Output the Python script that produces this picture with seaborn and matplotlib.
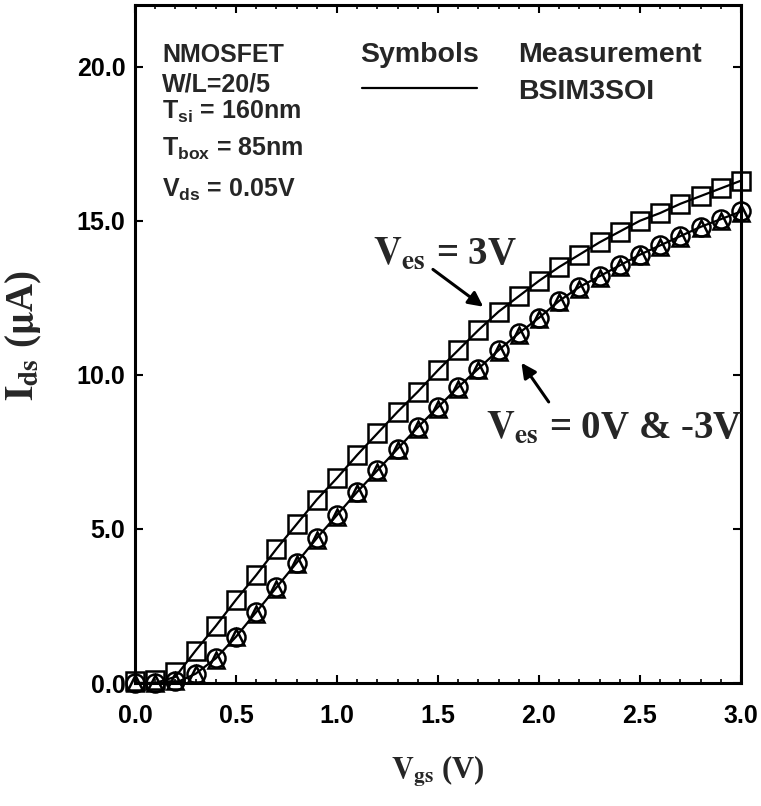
import matplotlib
matplotlib.use("Agg")
import matplotlib.pyplot as plt
from matplotlib.ticker import MultipleLocator, FormatStrFormatter
import seaborn as sns

# gate voltage sweep (V)
vgs = [0.0, 0.1, 0.2, 0.3, 0.4, 0.5, 0.6, 0.7, 0.8, 0.9, 1.0,
       1.1, 1.2, 1.3, 1.4, 1.5, 1.6, 1.7, 1.8, 1.9, 2.0,
       2.1, 2.2, 2.3, 2.4, 2.5, 2.6, 2.7, 2.8, 2.9, 3.0]

ids_3v = [0.05, 0.1, 0.35, 1.05, 1.85, 2.7, 3.5, 4.35, 5.15, 5.95, 6.65,
          7.4, 8.1, 8.8, 9.45, 10.15, 10.8, 11.45, 12.05, 12.55, 13.05,
          13.5, 13.9, 14.3, 14.65, 15.0, 15.25, 15.55, 15.8, 16.05, 16.3]
ids_0v = [0.0, 0.0, 0.05, 0.3, 0.8, 1.5, 2.3, 3.1, 3.9, 4.7, 5.45,
          6.2, 6.9, 7.6, 8.3, 8.95, 9.6, 10.2, 10.8, 11.35, 11.85,
          12.4, 12.85, 13.2, 13.55, 13.9, 14.2, 14.5, 14.8, 15.05, 15.3]
ids_m3v = [0.0, 0.0, 0.05, 0.3, 0.75, 1.5, 2.25, 3.05, 3.85, 4.65, 5.4,
           6.15, 6.85, 7.55, 8.25, 8.9, 9.55, 10.15, 10.75, 11.3, 11.8,
           12.35, 12.8, 13.15, 13.5, 13.85, 14.15, 14.45, 14.75, 15.0, 15.25]

# BSIM3SOI model curves (uA)
model_3v = [0.0, 0.0, 0.2, 1.05, 1.85, 2.7, 3.5, 4.35, 5.15, 5.95, 6.65,
            7.4, 8.1, 8.8, 9.45, 10.15, 10.8, 11.45, 12.05, 12.55, 13.05,
            13.5, 13.9, 14.3, 14.65, 15.0, 15.25, 15.55, 15.8, 16.05, 16.3]
model_0v = [0.0, 0.0, 0.0, 0.3, 0.8, 1.5, 2.3, 3.1, 3.9, 4.7, 5.45,
            6.2, 6.9, 7.6, 8.3, 8.95, 9.6, 10.2, 10.8, 11.35, 11.85,
            12.4, 12.85, 13.2, 13.55, 13.9, 14.2, 14.5, 14.8, 15.05, 15.3]

sns.set_theme(style="ticks")
plt.rcParams["font.family"] = ["Liberation Sans", "DejaVu Sans"]
plt.rcParams["mathtext.fontset"] = "custom"
plt.rcParams["mathtext.rm"] = "Liberation Sans:bold"
plt.rcParams["mathtext.bf"] = "Liberation Sans:bold"
plt.rcParams["mathtext.it"] = "Liberation Sans:bold"

fig = plt.figure(figsize=(7.61, 8.06), dpi=100)
ax = fig.add_axes([0.1774, 0.1526, 0.7963, 0.8412])

# model lines
for m in (model_3v, model_0v):
    sns.lineplot(x=vgs, y=m, ax=ax, color="black", linewidth=1.6, clip_on=False)

# measurement symbols
sym = dict(linestyle="none", color="black", markerfacecolor="none",
           markeredgecolor="black", markeredgewidth=1.8, clip_on=False)
sns.lineplot(x=vgs, y=ids_3v, ax=ax, marker="s", markersize=13, **sym)
sns.lineplot(x=vgs, y=ids_0v, ax=ax, marker="o", markersize=13, **sym)
sns.lineplot(x=vgs, y=ids_m3v, ax=ax, marker="^", markersize=11, **sym)

ax.set_xlim(0, 3.0)
ax.set_ylim(0, 22.0)
ax.xaxis.set_major_locator(MultipleLocator(0.5))
ax.xaxis.set_minor_locator(MultipleLocator(0.1))
ax.xaxis.set_major_formatter(FormatStrFormatter("%.1f"))
ax.yaxis.set_major_formatter(FormatStrFormatter("%.1f"))
ax.set_yticks([0, 5, 10, 15, 20])

ax.tick_params(which="both", direction="in", top=True, right=True, colors="black")
ax.tick_params(which="major", length=6, width=1.5)
ax.tick_params(which="minor", length=3, width=1.2)
ax.tick_params(axis="x", which="major", pad=15)
ax.tick_params(axis="y", which="major", pad=7)
for lab in ax.get_xticklabels() + ax.get_yticklabels():
    lab.set_fontsize(18)
    lab.set_fontweight("bold")
for sp in ax.spines.values():
    sp.set_linewidth(2.2)
    sp.set_color("black")

serif = dict(family=["Liberation Serif", "DejaVu Serif"], weight="bold",
             math_fontfamily="stix")
ax.set_xlabel(r"$\mathbf{V_{gs}}$ (V)", fontsize=22, **serif)
ax.set_ylabel(r"$\mathbf{I_{ds}}$ ($\mathbf{\mu}$A)", fontsize=28, **serif)
ax.xaxis.set_label_coords(0.5, -0.105)
ax.yaxis.set_label_coords(-0.15, 0.513)

# device info block
info = ["NMOSFET", "W/L=20/5", r"T$_{si}$ = 160nm",
        r"T$_{box}$ = 85nm", r"V$_{ds}$ = 0.05V"]
info_y = [20.16, 19.19, 18.3, 17.1, 15.77]
for s, yy in zip(info, info_y):
    ax.text(0.135, yy, s, fontsize=18, fontweight="bold", va="baseline")

ax.text(1.116, 20.16, "Symbols", fontsize=20.5, fontweight="bold", va="baseline")
ax.text(1.898, 20.16, "Measurement", fontsize=20.5, fontweight="bold", va="baseline")
ax.text(1.898, 18.96, "BSIM3SOI", fontsize=20.5, fontweight="bold", va="baseline")
ax.plot([0.3746, 0.564], [0.8776, 0.8776], transform=ax.transAxes,
        color="black", linewidth=1.6)

# curve annotations
arrow = dict(arrowstyle="-|>", color="black", lw=2.2, mutation_scale=22,
             shrinkA=0, shrinkB=0)
ax.annotate("", xy=(1.724, 12.21), xytext=(1.475, 13.42), arrowprops=arrow)
ax.annotate("", xy=(1.913, 10.39), xytext=(2.048, 9.12), arrowprops=arrow)
ax.text(1.176, 13.58, r"$\mathbf{V_{es}}$ = 3V", fontsize=28, va="baseline", **serif)
ax.text(1.739, 7.95, r"$\mathbf{V_{es}}$ = 0V & -3V", fontsize=28, va="baseline", **serif)

fig.savefig("out.png", dpi=100)
